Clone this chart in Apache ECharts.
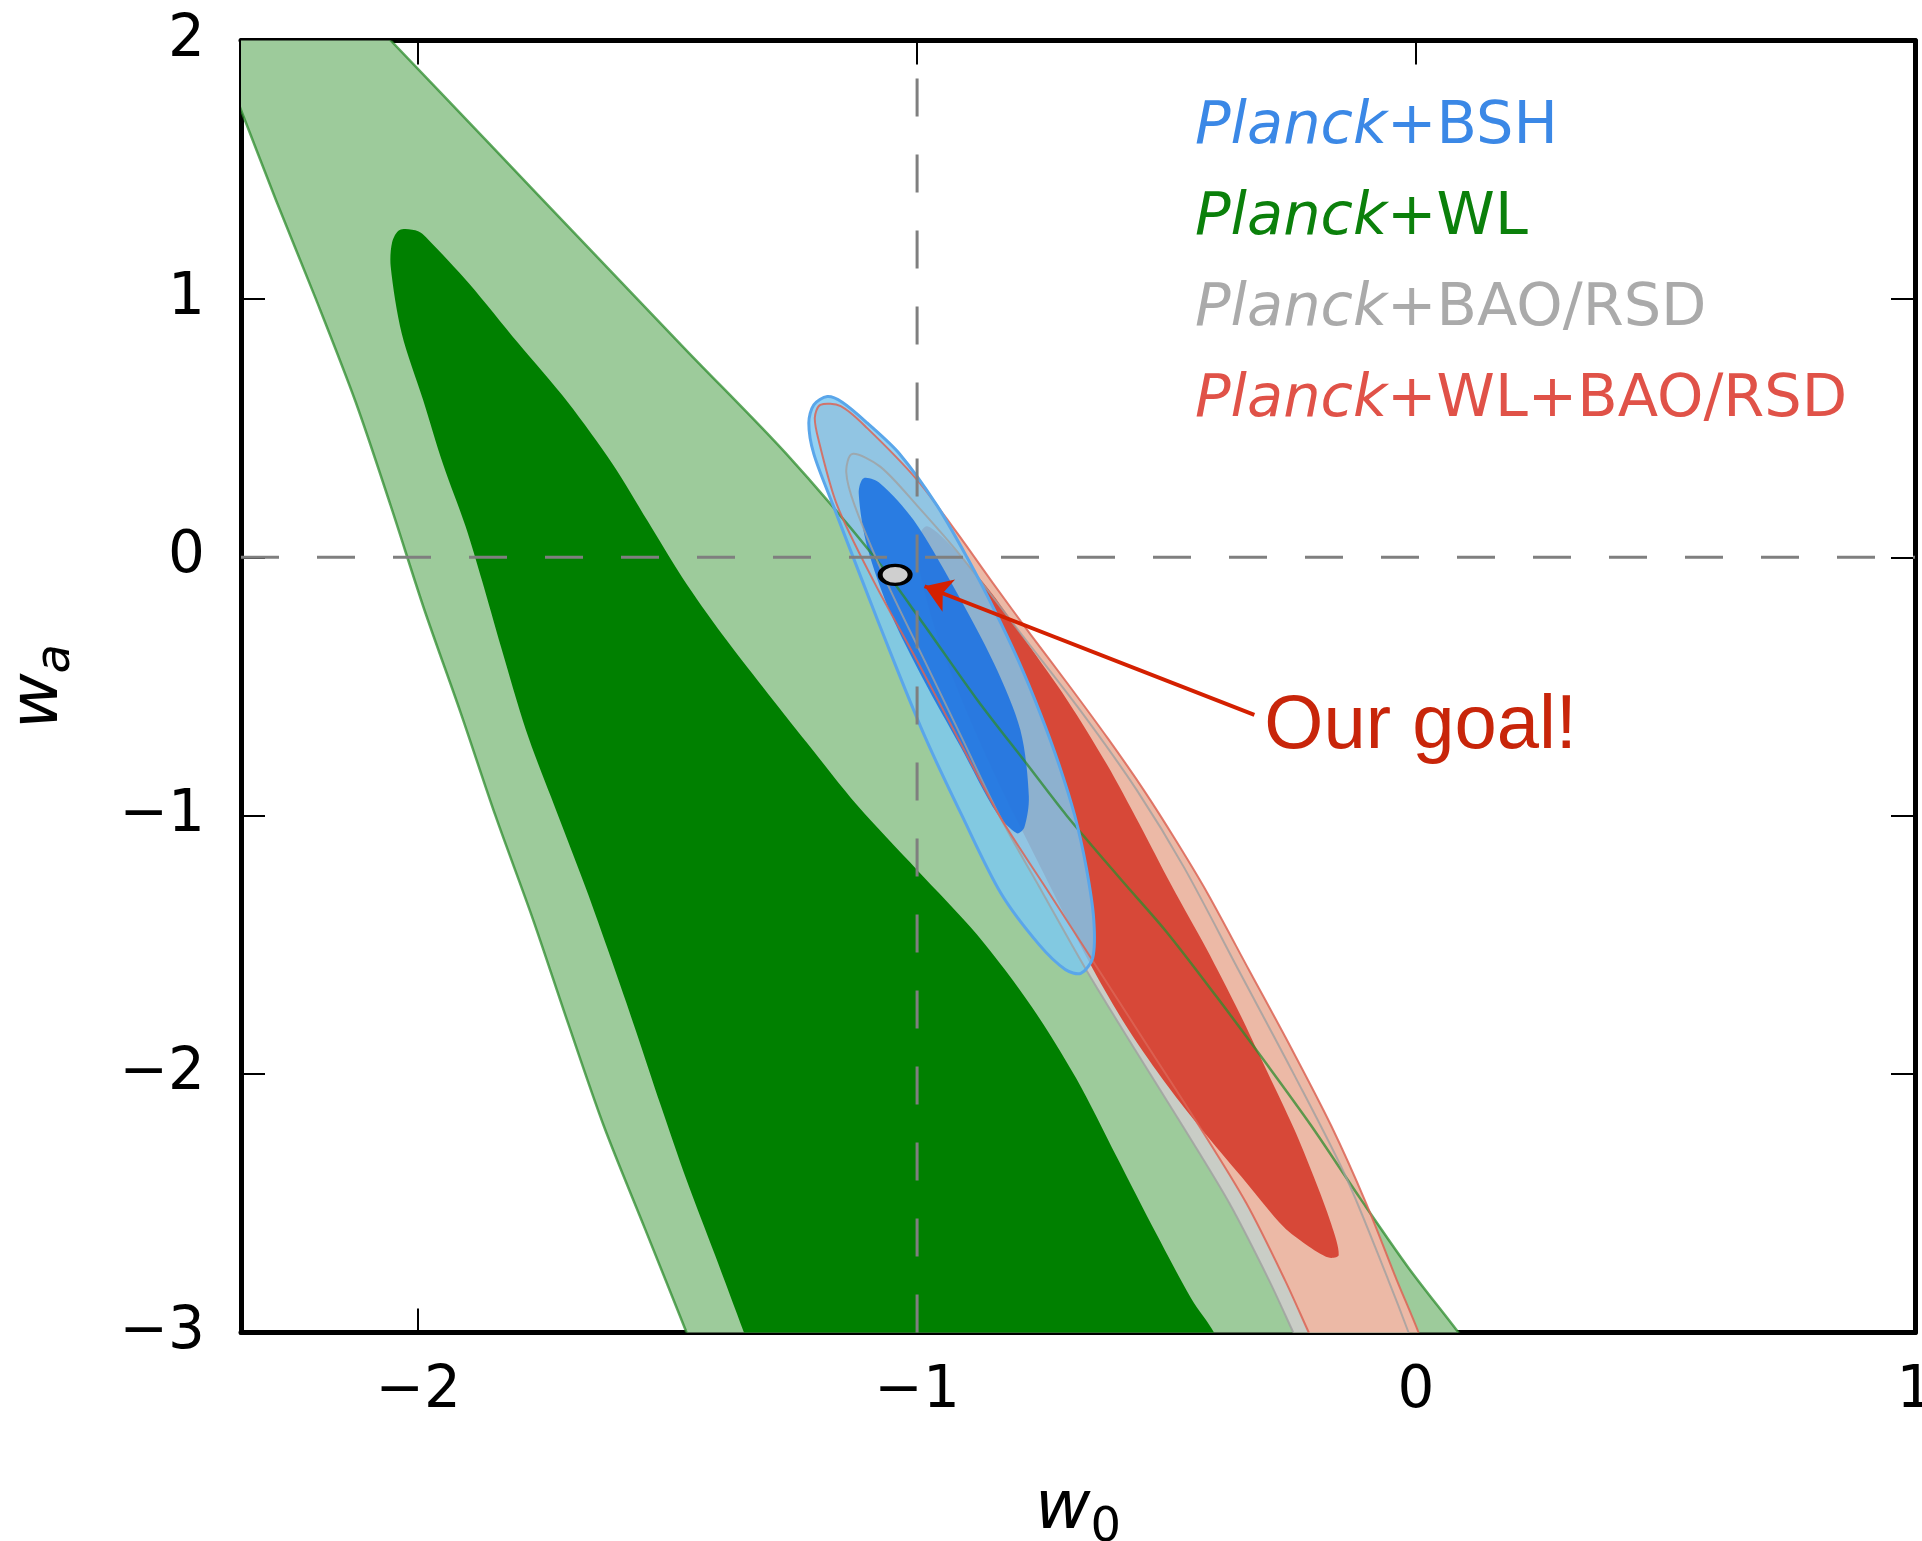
<!DOCTYPE html>
<html>
<head>
<meta charset="utf-8">
<title>w0 - wa</title>
<script src="https://cdn.jsdelivr.net/npm/echarts@6/dist/echarts.min.js"></script>
<style>
  html, body { margin: 0; padding: 0; background: #fff; }
  #chart { width: 1922px; height: 1541px; }
</style>
</head>
<body>
<div id="chart"></div>
<script>
// axes
const xMin = -2.355, xMax = 1;
const yMin = -3, yMax = 2;
const xTicks = [-2, -1, 0, 1];
const yTicks = [-3, -2, -1, 0, 1, 2];

// contours, points are [w0, wa]
// Planck+WL
const wlOuter = [
  [-2.45, 2.2], [-2.155, 2.2], [-2.055, 2.0], [-1.857, 1.6], [-1.660, 1.2], [-1.462, 0.8], [-1.262, 0.4],
  [-1.085, 0.0], [-0.99, -0.25], [-0.880, -0.55], [-0.78, -0.80], [-0.70, -1.0], [-0.59, -1.25],
  [-0.50, -1.45], [-0.40, -1.70], [-0.298, -1.965], [-0.21, -2.2], [-0.113, -2.478], [-0.015, -2.75],
  [0.085, -3.0], [0.24, -3.4],
  [-1.38, -3.4], [-1.462, -3.0], [-1.545, -2.6], [-1.628, -2.2], [-1.700, -1.8], [-1.770, -1.4],
  [-1.845, -1.0], [-1.915, -0.6], [-1.988, -0.2], [-2.055, 0.2], [-2.125, 0.6], [-2.205, 1.0],
  [-2.285, 1.383], [-2.355, 1.731], [-2.40, 1.95]
];
const wlInner = [
  [-2.037, 1.267], [-2.0, 1.262], [-1.979, 1.228], [-1.898, 1.06], [-1.80, 0.83], [-1.70, 0.60],
  [-1.61, 0.36], [-1.54, 0.14], [-1.47, -0.08], [-1.39, -0.30], [-1.31, -0.50], [-1.22, -0.72],
  [-1.12, -0.96], [-1.00, -1.21], [-0.88, -1.46], [-0.77, -1.74], [-0.68, -2.02], [-0.60, -2.32],
  [-0.52, -2.62], [-0.45, -2.87], [-0.40, -3.02], [-0.34, -3.4],
  [-1.27, -3.4], [-1.347, -3.0], [-1.405, -2.7], [-1.462, -2.41], [-1.514, -2.12], [-1.564, -1.83],
  [-1.614, -1.55], [-1.664, -1.28], [-1.734, -0.926], [-1.784, -0.668], [-1.834, -0.346], [-1.872, -0.09],
  [-1.905, 0.12], [-1.950, 0.36], [-1.990, 0.609], [-2.033, 0.867], [-2.055, 1.125], [-2.052, 1.22]
];
// Planck+BAO/RSD
const baoOuter = [
  [-1.130, 0.400], [-1.074, 0.351], [-1.00, 0.20], [-0.91, 0.0], [-0.79, -0.3], [-0.67, -0.6],
  [-0.56, -0.9], [-0.465, -1.2], [-0.355, -1.6], [-0.245, -2.0], [-0.140, -2.4], [-0.055, -2.8],
  [-0.015, -3.0], [0.06, -3.4],
  [-0.15, -3.4], [-0.246, -3.0], [-0.294, -2.8], [-0.374, -2.5], [-0.468, -2.2], [-0.565, -1.9],
  [-0.660, -1.6], [-0.748, -1.3], [-0.835, -1.0], [-0.91, -0.7], [-0.985, -0.4], [-1.06, -0.1],
  [-1.125, 0.2], [-1.142, 0.33]
];
// Planck+WL+BAO/RSD
const allOuter = [
  [-1.194, 0.590], [-1.153, 0.585], [-1.100, 0.50], [-1.00, 0.30], [-0.922, 0.10], [-0.848, -0.10],
  [-0.772, -0.30], [-0.694, -0.50], [-0.618, -0.70], [-0.546, -0.90], [-0.480, -1.10], [-0.418, -1.30],
  [-0.334, -1.60], [-0.250, -1.90], [-0.170, -2.20], [-0.100, -2.50], [-0.038, -2.80], [0.005, -3.0],
  [0.08, -3.4],
  [-0.12, -3.4], [-0.215, -3.0], [-0.262, -2.8], [-0.340, -2.5], [-0.435, -2.2], [-0.535, -1.9],
  [-0.635, -1.6], [-0.735, -1.3], [-0.835, -1.0], [-0.918, -0.7], [-1.000, -0.4], [-1.085, -0.1],
  [-1.160, 0.2], [-1.197, 0.45], [-1.205, 0.54]
];
const allInner = [
  [-0.98, 0.12], [-0.92, 0.02], [-0.85, -0.14], [-0.78, -0.33], [-0.70, -0.55], [-0.62, -0.80],
  [-0.555, -1.03], [-0.49, -1.27], [-0.420, -1.515], [-0.355, -1.76], [-0.297, -1.996], [-0.245, -2.21],
  [-0.205, -2.397], [-0.170, -2.58], [-0.155, -2.70], [-0.175, -2.71], [-0.22, -2.66], [-0.266, -2.59],
  [-0.34, -2.42], [-0.420, -2.237], [-0.50, -2.04], [-0.573, -1.838], [-0.64, -1.62], [-0.70, -1.40],
  [-0.76, -1.17], [-0.83, -0.9], [-0.90, -0.60], [-0.96, -0.30], [-0.995, -0.05], [-1.0, 0.06]
];
// Planck+BSH
const bshOuter = [
  [-1.180, 0.622], [-1.150, 0.60], [-1.100, 0.52], [-1.035, 0.40], [-0.960, 0.20], [-0.900, 0.0],
  [-0.846, -0.2], [-0.797, -0.4], [-0.754, -0.6], [-0.716, -0.8], [-0.684, -1.0], [-0.661, -1.2],
  [-0.646, -1.4], [-0.648, -1.55], [-0.672, -1.61], [-0.703, -1.595], [-0.755, -1.5], [-0.832, -1.3],
  [-0.910, -1.0], [-0.983, -0.7], [-1.047, -0.4], [-1.108, -0.1], [-1.168, 0.2], [-1.207, 0.4],
  [-1.217, 0.52], [-1.207, 0.59]
];
const bshInner = [
  [-1.107, 0.306], [-1.074, 0.286], [-1.007, 0.144], [-0.927, -0.114], [-0.846, -0.410], [-0.793, -0.668],
  [-0.776, -0.927], [-0.785, -1.045], [-0.800, -1.068], [-0.840, -0.991], [-0.913, -0.733], [-0.987, -0.475],
  [-1.053, -0.217], [-1.100, 0.041], [-1.117, 0.248]
];

// annotation
const goal = [-1.044, -0.068];
const arrowFrom = [-0.324, -0.610];
const arrowTo = [-0.985, -0.112];
const goalLabelAt = [-0.304, -0.655];
const refW0 = -1, refWa = 0;

const FONT = '"DejaVu Sans", sans-serif';
const minus = v => String(v).replace('-', '\u2212');

function fillSeries(name, pts, fill, z) {
  return {
    name: name, type: 'custom', coordinateSystem: 'cartesian2d', clip: true, silent: true, z: z,
    data: [[0, 0]],
    renderItem: function (params, api) {
      return {
        type: 'polygon',
        shape: { points: pts.map(p => api.coord(p)), smooth: 0.3 },
        style: { fill: fill }
      };
    }
  };
}
function edgeSeries(name, pts, stroke, width, z) {
  return {
    name: name, type: 'custom', coordinateSystem: 'cartesian2d', clip: true, silent: true, z: z,
    data: [[0, 0]],
    renderItem: function (params, api) {
      return {
        type: 'polygon',
        shape: { points: pts.map(p => api.coord(p)), smooth: 0.3 },
        style: { fill: 'none', stroke: stroke, lineWidth: width }
      };
    }
  };
}

const chart = echarts.init(document.getElementById('chart'));

const sideAxis = {
  type: 'value', splitLine: { show: false },
  axisLine: { show: true, onZero: false, lineStyle: { color: '#000', width: 5 } },
  axisTick: { show: true, inside: true, length: 24, lineStyle: { color: '#000', width: 2 } }
};

chart.setOption({
  backgroundColor: '#fff',
  animation: false,
  grid: { left: 241, right: 7, top: 40.5, bottom: 208.5, containLabel: false, outerBoundsMode: 'none' },
  legend: {
    orient: 'vertical', left: 1185, top: 93, itemGap: 31,
    icon: 'none', itemWidth: 0, itemHeight: 0, selectedMode: false,
    formatter: n => '{i|Planck}' + n.slice(6),
    textStyle: {
      fontSize: 59, fontFamily: FONT, lineHeight: 60,
      rich: { i: { fontStyle: 'italic', fontSize: 59, fontFamily: FONT, lineHeight: 60 } }
    },
    data: [
      { name: 'Planck+BSH', textStyle: { color: '#3b88e6' } },
      { name: 'Planck+WL', textStyle: { color: '#0b800b' } },
      { name: 'Planck+BAO/RSD', textStyle: { color: '#aaaaaa' } },
      { name: 'Planck+WL+BAO/RSD', textStyle: { color: '#e05248' } }
    ]
  },
  xAxis: [
    Object.assign({}, sideAxis, {
      min: xMin, max: xMax, position: 'bottom',
      axisTick: Object.assign({}, sideAxis.axisTick, { customValues: xTicks }),
      axisLabel: { customValues: xTicks, formatter: minus, margin: 30, color: '#000', fontSize: 58, fontFamily: FONT },
      name: '{w|w}{s|0}', nameLocation: 'middle', nameGap: 152,
      nameTextStyle: {
        color: '#000',
        rich: {
          w: { fontSize: 68, lineHeight: 68, fontStyle: 'italic', fontFamily: FONT, padding: [0, 0, 8, 0], verticalAlign: 'bottom' },
          s: { fontSize: 48, lineHeight: 48, fontFamily: FONT, verticalAlign: 'bottom' }
        }
      }
    }),
    Object.assign({}, sideAxis, {
      min: xMin, max: xMax, position: 'top',
      axisTick: Object.assign({}, sideAxis.axisTick, { customValues: xTicks }),
      axisLabel: { show: false }
    })
  ],
  yAxis: [
    Object.assign({}, sideAxis, {
      min: yMin, max: yMax, position: 'left',
      axisTick: Object.assign({}, sideAxis.axisTick, { customValues: yTicks }),
      axisLabel: { customValues: yTicks, formatter: minus, margin: 36, color: '#000', fontSize: 58, fontFamily: FONT },
      name: '{w|w}{s|a}', nameLocation: 'middle', nameGap: 160, nameRotate: 90,
      nameTextStyle: {
        color: '#000',
        rich: {
          w: { fontSize: 68, lineHeight: 68, fontStyle: 'italic', fontFamily: FONT, padding: [0, 0, 8, 0], verticalAlign: 'bottom' },
          s: { fontSize: 48, lineHeight: 48, fontStyle: 'italic', fontFamily: FONT, verticalAlign: 'bottom' }
        }
      }
    }),
    Object.assign({}, sideAxis, {
      min: yMin, max: yMax, position: 'right',
      axisTick: Object.assign({}, sideAxis.axisTick, { customValues: yTicks }),
      axisLabel: { show: false }
    })
  ],
  series: [
    fillSeries('Planck+WL', wlOuter, '#9dcb9b', 1),
    fillSeries('Planck+WL', wlInner, '#008000', 1),
    fillSeries('Planck+BAO/RSD', baoOuter, '#c9cdc6', 1),
    fillSeries('Planck+WL+BAO/RSD', allOuter, '#ecb9a6', 1),
    fillSeries('Planck+WL+BAO/RSD', allInner, '#d74838', 1),
    fillSeries('Planck+BSH', bshOuter, 'rgba(125,200,240,0.82)', 1),
    fillSeries('Planck+BSH', bshInner, 'rgba(30,115,225,0.9)', 1),
    edgeSeries('Planck+WL', wlOuter, 'rgba(45,140,45,0.75)', 2.5, 2),
    edgeSeries('Planck+BAO/RSD', baoOuter, 'rgba(160,160,160,0.8)', 2, 2),
    edgeSeries('Planck+WL+BAO/RSD', allOuter, 'rgba(220,100,85,0.85)', 2, 2),
    edgeSeries('Planck+BSH', bshOuter, '#5aa6ea', 3, 2),
    {
      // dashed reference lines w0 = -1, wa = 0
      type: 'custom', coordinateSystem: 'cartesian2d', silent: true, z: 3,
      data: [[0, 0]],
      renderItem: function (params, api) {
        const style = { stroke: '#7f7f7f', lineWidth: 3, lineDash: [38, 38] };
        const a = api.coord([refW0, yMin]), b = api.coord([refW0, yMax]);
        const c = api.coord([xMin, refWa]), d = api.coord([xMax, refWa]);
        return {
          type: 'group', children: [
            { type: 'line', shape: { x1: a[0], y1: a[1], x2: b[0], y2: b[1] }, style: style },
            { type: 'line', shape: { x1: c[0], y1: c[1], x2: d[0], y2: d[1] }, style: style }
          ]
        };
      }
    },
    {
      type: 'lines', coordinateSystem: 'cartesian2d', silent: true, z: 4,
      symbol: ['none', 'arrow'], symbolSize: 26,
      lineStyle: { color: '#d42000', width: 4, opacity: 1 },
      data: [{ coords: [arrowFrom, arrowTo] }]
    },
    {
      type: 'scatter', silent: true, z: 5,
      symbol: 'circle', symbolSize: [30, 19],
      itemStyle: { color: '#cfcfcf', borderColor: '#000', borderWidth: 4, opacity: 1 },
      data: [goal]
    },
    {
      type: 'custom', coordinateSystem: 'cartesian2d', silent: true, z: 5,
      data: [[0, 0]],
      renderItem: function (params, api) {
        const p = api.coord(goalLabelAt);
        return {
          type: 'text', x: p[0], y: p[1],
          style: {
            text: 'Our goal!', fill: '#c8250a', fontSize: 76,
            fontFamily: '"Liberation Sans", Arial, sans-serif', align: 'left', verticalAlign: 'middle'
          }
        };
      }
    }
  ]
});
</script>
</body>
</html>
